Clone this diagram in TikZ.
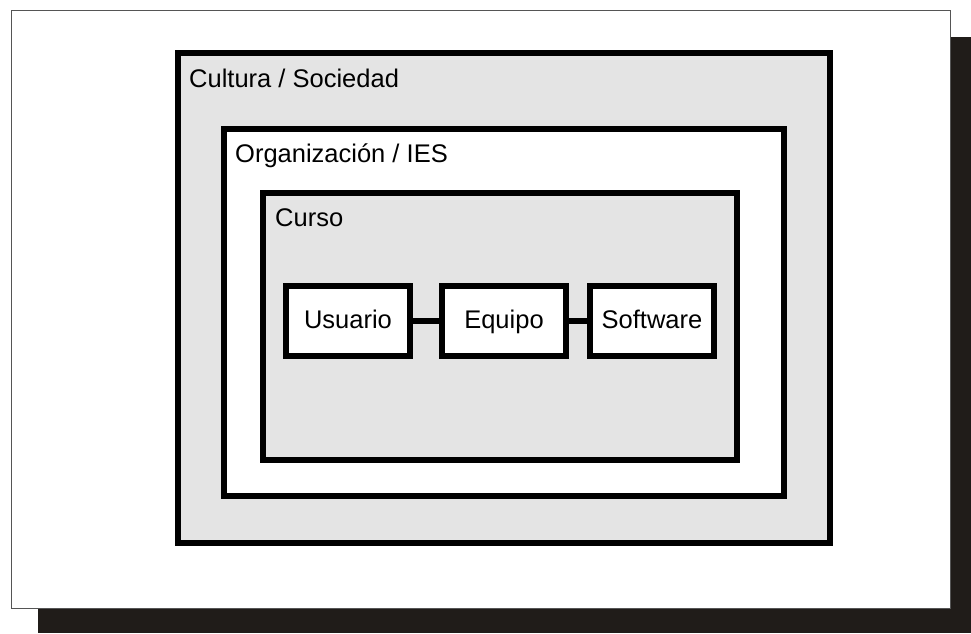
\documentclass[tikz,border=0pt]{standalone}
\usepackage{fontspec}
\setmainfont{Liberation Sans}
\definecolor{shadowc}{HTML}{201C19}
\definecolor{fillgray}{HTML}{E4E4E4}
\definecolor{framec}{HTML}{555555}
\begin{document}
\begin{tikzpicture}[x=1pt,y=-1pt,
  layer/.style={draw=black, line width=6pt, rectangle, inner sep=0pt},
  item/.style={draw=black, line width=6pt, fill=white, rectangle, inner sep=0pt,
    minimum width=124pt, minimum height=70pt, text height=19.5pt, text depth=4.5pt,
    font=\fontsize{25.5}{30}\selectfont},
  lbl/.style={anchor=base west, inner sep=0pt, font=\fontsize{25.5}{30}\selectfont},
  link/.style={line width=6pt}]
\useasboundingbox (0,0) rectangle (971,633);
\fill[shadowc] (38,37) rectangle (971,633);
\draw[framec, fill=white, line width=1pt] (11,10) rectangle (950,608);
\node[layer, fill=fillgray, minimum width=652pt, minimum height=490pt] (cult) at (504,298) {};
\node[layer, fill=white, minimum width=560pt, minimum height=367pt] (org) at (504,312.5) {};
\node[layer, fill=fillgray, minimum width=474pt, minimum height=267pt] (curso) at (500,326.5) {};
\node[lbl] (lcult) at (189,87) {Cultura / Sociedad};
\node[lbl] (lorg) at (235,162) {Organización / IES};
\node[lbl] (lcurso) at (275,226) {Curso};
\node[item] (usu) at (348,321) {Usuario};
\node[item] (equ) at (504,321) {Equipo};
\node[item] (sof) at (652,321) {Software};
\draw[link] (usu.east) -- (equ.west);
\draw[link] (equ.east) -- (sof.west);
\end{tikzpicture}
\end{document}
